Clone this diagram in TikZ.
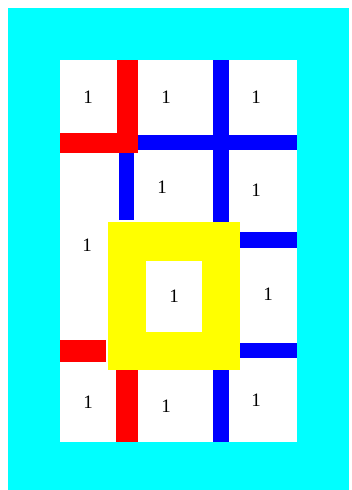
\documentclass[tikz,border=0pt]{standalone}
\usepackage{fontspec}
\setmainfont{Liberation Serif}
\definecolor{aqua}{RGB}{0,255,255}
\definecolor{pred}{RGB}{255,0,0}
\definecolor{pblue}{RGB}{0,0,255}
\definecolor{pyellow}{RGB}{255,255,0}
\begin{document}
\begin{tikzpicture}[x=1pt,y=-1pt,
  num/.style={font=\fontsize{19}{19}\selectfont, inner sep=0pt},
  redbar/.style={fill=pred},
  bluebar/.style={fill=pblue}]
\useasboundingbox (0,0) rectangle (352,490);
\fill[white] (0,0) rectangle (352,490);
\fill[aqua] (8,8) rectangle (349,490);
\fill[white] (60,60) rectangle (297,442);
% bars
\fill[redbar] (117,60) rectangle (138,153);
\fill[redbar] (60,133) rectangle (138,153);
\fill[bluebar] (138,135) rectangle (297,150);
\fill[bluebar] (213,60) rectangle (229,222);
\fill[bluebar] (119,153) rectangle (134,220);
\fill[bluebar] (240,232) rectangle (297,248);
\fill[redbar] (60,340) rectangle (106,362);
\fill[bluebar] (239,343) rectangle (297,358);
\fill[redbar] (116,368) rectangle (138,442);
\fill[bluebar] (213,370) rectangle (229,442);
% yellow frame
\fill[pyellow] (108,222) rectangle (240,370);
\fill[white] (146,261) rectangle (202,332);
% numbers
\node[num] (n11) at (88,97) {1};
\node[num] (n12) at (166,97) {1};
\node[num] (n13) at (256,97) {1};
\node[num] (n22) at (162,187) {1};
\node[num] (n23) at (256,190) {1};
\node[num] (n31) at (87,245) {1};
\node[num] (nc) at (174,296) {1};
\node[num] (n33) at (268,294) {1};
\node[num] (n41) at (88,402) {1};
\node[num] (n42) at (166,406) {1};
\node[num] (n43) at (256,400) {1};
\end{tikzpicture}
\end{document}
